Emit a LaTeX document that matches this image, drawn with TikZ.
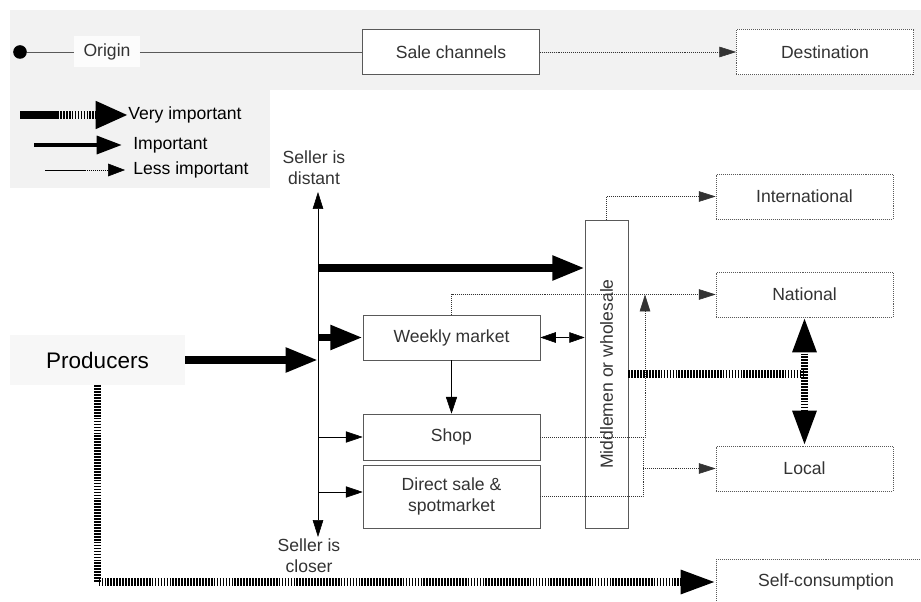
\documentclass[tikz,border=0pt]{standalone}
\usepackage{fontspec}
\setmainfont{Liberation Sans}
\usetikzlibrary{arrows.meta}

\tikzset{
  box/.style = {draw = black!65, fill = white, text = black!80, inner sep = 0pt,
    minimum width = 4.425cm, minimum height = 1.125cm, align = center},
  dbox/.style = {box, densely dotted},
  heavy/.style = {line width = 5.3pt, -{Triangle[length = 23pt, width = 16.5pt]}},
  hatch/.style = {line width = 5.3pt, dash pattern = on 1.2pt off 0.9pt},
  light/.style = {black, -{Triangle[length = 12pt, width = 8pt]}},
  dotline/.style = {black!80, densely dotted},
  dotarrow/.style = {dotline, -{Triangle[length = 12pt, width = 7.5pt]}}
}

\begin{document}
\begin{tikzpicture}[x = 0.025cm, y = -0.025cm, font = \fontsize{12.5}{15}\selectfont]
\useasboundingbox (0, 0) rectangle (921, 602);
\fill[black!5] (10, 10) rectangle (921, 90);
\fill[black!5] (10, 90) rectangle (270, 188);

% key line
\node (dot) [circle, fill, inner sep = 0pt, minimum size = 0.34cm] at (20, 52) {};
\node (origin) [fill = black!1, text = black!80, minimum width = 1.625cm, minimum height = 0.775cm] at (107, 52) {Origin};
\node (sale) [box] at (451, 52) {Sale channels};
\node (dest) [dbox] at (825, 52) {Destination};
\draw[black!65] (dot) -- (origin) (origin) -- (sale);
\draw[dotarrow] (sale) -- (dest);

% legend
\node (vimp) [anchor = west, inner sep = 0pt] at (128, 115) {Very important};
\node (imp) [anchor = west, inner sep = 0pt] at (133, 145) {Important};
\node (limp) [anchor = west, inner sep = 0pt] at (133, 170) {Less important};
\draw[line width = 5.3pt] (20, 115) -- (57, 115);
\draw[hatch, -{Triangle[length = 23pt, width = 18.5pt]}] (57, 115) -- (vimp.west);
\draw[line width = 3.2pt, -{Triangle[length = 18pt, width = 12.5pt]}] (34, 145) -- ([xshift = -0.275cm]imp.west);
\draw (45, 170) -- (85, 170);
\draw[dotline, black, -{Triangle[length = 12pt, width = 9pt]}] (85, 170) -- ([xshift = -0.2cm]limp.west);

% seller axis
\coordinate (axtop) at (318, 192);
\coordinate (axbot) at (318, 537);
\node (far) [align = center, text = black!80] at (314, 168) {Seller is\\distant};
\node (near) [align = center, text = black!80] at (309, 556) {Seller is\\closer};
\draw[{Triangle[length = 12pt, width = 7.5pt]}-{Triangle[length = 12pt, width = 7.5pt]}] (axtop) -- (axbot);

% channels
\node (prod) [fill = black!3, minimum width = 4.375cm, minimum height = 1.25cm,
  font = \fontsize{16}{18}\selectfont] at (97.5, 360) {Producers};
\node (weekly) [box] at (451.5, 337.5) {Weekly market};
\node (shop) [box, minimum height = 1.15cm] at (451.5, 437) {Shop};
\node (direct) [box, minimum height = 1.575cm] at (451.5, 496.5) {Direct sale \&\\spotmarket};
\node (middle) [box, minimum width = 1.075cm, minimum height = 7.7cm] at (606.5, 374) {};
\node [rotate = 90, text = black!80] at (middle.center) {Middlemen or wholesale};

\node (intl) [dbox] at (804.5, 196.5) {International};
\node (natl) [dbox] at (804.5, 294.5) {National};
\node (local) [dbox] at (804.5, 468.5) {Local};
\node (self) [dbox, minimum width = 5.5cm] at (826, 582) {Self-consumption};

\coordinate (a1) at (318, 268);
\coordinate (a2) at (318, 437);
\coordinate (a3) at (318, 492);
\coordinate (s1) at (645, 294.5);
\coordinate (d1) at (643, 437);
\coordinate (d2) at (643, 468.5);
\coordinate (j1) at (804.5, 374);

\draw[heavy] (prod.east) -- (prod.east -| axtop);
\draw[heavy] (a1) -- (a1 -| middle.west);
\draw[heavy] (weekly.west -| axtop) -- (weekly.west);
\draw[light] (a2) -- (a2 -| shop.west);
\draw[light] (a3) -- (a3 -| direct.west);
\draw[light] (weekly) -- (shop);
\draw[{Triangle[length = 11pt, width = 7.5pt]}-{Triangle[length = 11pt, width = 7.5pt]}] (weekly.east) -- (weekly.east -| middle.west);

% onward flows
\draw[dotarrow] (middle.north) |- (intl.west);
\draw[dotarrow] (weekly.north) |- (natl.west);
\draw[dotarrow] (shop.east) -| (s1);
\draw[dotline] (direct.east) -| (d1);
\draw[dotarrow] (d2) -- (local.west);
\draw[hatch] (middle.east) -- (j1);
\draw[hatch, {Triangle[length = 25pt, width = 16pt]}-{Triangle[length = 25pt, width = 16pt]}] (natl.south) -- (local.north);
\draw[hatch, -{Triangle[length = 25pt, width = 16pt]}] (prod.south) |- (self.west);
%\draw[dotline] (middle.east) -- (natl.west);
\end{tikzpicture}
\end{document}
